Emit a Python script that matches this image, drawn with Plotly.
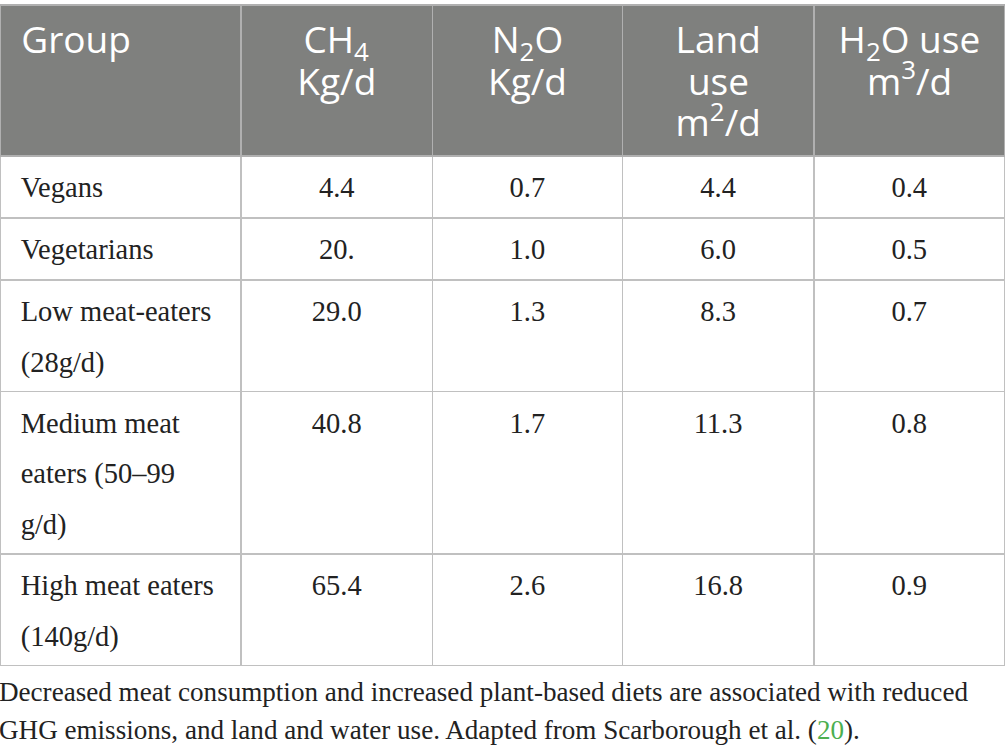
import plotly.graph_objects as go

# datos de la tabla (los espacios finos al inicio centran cada renglon del encabezado)
header_labels = [["\u00a0\u200aGroup"],
                 ["\u2009CH<sub>4</sub>", "Kg/d"],
                 ["\u200aN<sub>2</sub>O", "Kg/d"],
                 ["Land", "\u2004use", "m<sup>2</sup>/d"],
                 ["H<sub>2</sub>O use", "\u2002\u2009\u200am<sup>3</sup>/d"]]
group_lines = [["Vegans"], ["Vegetarians"], ["Low meat-eaters", "(28g/d)"],
               ["Medium meat", "eaters (50–99", "g/d)"], ["High meat eaters", "(140g/d)"]]
ch4 = ["4.4", "20.", "29.0", "40.8", "65.4"]
n2o = ["0.7", "1.0", "1.3", "1.7", "2.6"]
land_use = ["4.4", "6.0", "8.3", "11.3", "16.8"]
h2o_use = ["0.4", "0.5", "0.7", "0.8", "0.9"]
note_lines = ["Decreased meat consumption and increased plant-based diets are associated with reduced",
              "GHG emissions, and land and water use. Adapted from Scarborough et al. "
              "(<span style=\"color:#4caf50\">20</span>)."]

# la fuente de la celda fija el interlineado; el span fija el tamaño visible
BODY_LINE = 38.8
BODY_PX = 28.5
HEAD_LINE = 32
HEAD_PX = 37
NB = "\u00a0"


def span(txt, px):
    return '<span style="font-size:%spx">%s</span>' % (px, txt)


LIFT = span("<sup>" + NB + "</sup>", 31.6)   # margen superior del texto
DROP = span("<sub>" + NB + "</sub>", 33.2)   # margen inferior del texto


def join_lines(parts):
    # con un solo renglon se añade <br> para que plotly no parta la etiqueta
    return "<br>".join(parts) if len(parts) > 1 else parts[0] + "<br>"


def head_cell(lines):
    return join_lines([span(l, HEAD_PX) for l in lines])


def body_cell(lines, left=False):
    pre = NB if left else ""
    parts = [LIFT + span(pre + l, BODY_PX) for l in lines]
    parts[-1] += DROP
    return join_lines(parts)


header_vals = [head_cell(h) for h in header_labels]
cols = [[body_cell(g, left=True) for g in group_lines]] + \
       [[body_cell([v]) for v in c] for c in (ch4, n2o, land_use, h2o_use)]

fig = go.Figure(go.Table(
    domain=dict(x=[0, 1], y=[0.05, (753 - 5) / 753]),
    columnwidth=[241, 191, 190, 191, 191],
    header=dict(
        values=header_vals,
        fill_color="#7f807e",
        line=dict(color="#b0b0b0", width=1.5),
        align=["left", "center", "center", "center", "center"],
        font=dict(family="Open Sans", size=HEAD_LINE, color="white"),
        height=151,
    ),
    cells=dict(
        values=cols,
        fill_color="white",
        line=dict(color="#c0c0c0", width=1.5),
        align=["left", "center", "center", "center", "center"],
        font=dict(family="Liberation Serif", size=BODY_LINE, color="#222222"),
        height=62,
    ),
))

for i, txt in enumerate(note_lines):
    fig.add_annotation(
        text=txt, xref="paper", yref="paper", x=-0.003, y=(753 - 692 - 38 * i) / 753,
        xanchor="left", yanchor="middle", showarrow=False,
        font=dict(family="Liberation Serif", size=27.1, color="#222222"),
    )

fig.update_layout(width=1005, height=753, margin=dict(l=0, r=0, t=0, b=0),
                  paper_bgcolor="white", plot_bgcolor="white")

fig.write_html("out.html", config={"displayModeBar": False},
               post_script="document.body.style.margin='0';")
